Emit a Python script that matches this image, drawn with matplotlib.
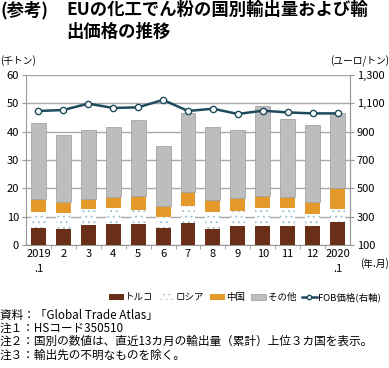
import matplotlib.pyplot as plt
from matplotlib.ticker import FuncFormatter

plt.rcParams['font.family'] = ['Noto Sans CJK JP', 'DejaVu Sans']
plt.rcParams['hatch.linewidth'] = 0.7

# data (千トン, ユーロ/トン)
months = ["2019\n.1", "2", "3", "4", "5", "6", "7", "8", "9", "10", "11", "12", "2020\n.1"]
turkey = [6.1, 5.6, 6.9, 7.3, 7.3, 6.1, 7.8, 5.8, 6.8, 6.8, 6.8, 6.8, 8.2]
russia = [5.7, 5.8, 5.7, 5.6, 5.2, 3.9, 5.8, 5.7, 5.3, 6.1, 6.4, 4.3, 4.6]
china = [4.3, 3.8, 3.5, 4.2, 4.8, 3.8, 5.0, 4.4, 4.5, 4.4, 3.7, 4.0, 7.3]
total = [42.9, 38.7, 40.5, 41.5, 44.0, 35.1, 46.5, 41.5, 40.7, 48.9, 44.4, 42.2, 46.6]
fob = [1046, 1053, 1098, 1067, 1072, 1124, 1046, 1062, 1025, 1048, 1036, 1029, 1029]

others = [t - a - b - c for t, a, b, c in zip(total, turkey, russia, china)]

C_TUR = "#6a2f17"
C_RUS = "#ffffff"
C_CHN = "#e39a2b"
C_OTH = "#bdbdbd"
C_LINE = "#1f4b5c"

fig = plt.figure(figsize=(3.89, 3.68), dpi=100)

# title
fig.text(0.0, 0.998, "(参考)", fontsize=12.5, fontweight="bold", va="top", ha="left")
fig.text(66 / 389, 0.998, "EUの化工でん粉の国別輸出量および輸\n出価格の推移",
         fontsize=12.5, fontweight="bold", va="top", ha="left", linespacing=1.3)

ax = fig.add_axes([26 / 389, 1 - 245 / 368, 324 / 389, 170 / 368])
x = list(range(len(months)))
w = 0.6

b2 = [a + b for a, b in zip(turkey, russia)]
b3 = [a + b for a, b in zip(b2, china)]

ax.bar(x, turkey, w, color=C_TUR, label="トルコ", zorder=3)
ax.bar(x, russia, w, bottom=turkey, color=C_RUS, edgecolor="#9cc4d8", linewidth=0,
       hatch="...", label="ロシア", zorder=3)
ax.bar(x, china, w, bottom=b2, color=C_CHN, label="中国", zorder=3)
ax.bar(x, others, w, bottom=b3, color=C_OTH, edgecolor="#a5a5a5", linewidth=0.6,
       label="その他", zorder=3)

ax.set_xlim(-0.5, len(x) - 0.5)
ax.set_ylim(0, 60)
ax.set_yticks(range(0, 61, 10))
ax.set_xticks(x)
ax.set_xticklabels(months, fontsize=8, linespacing=1.6)
ax.set_xticks([i + 0.5 for i in x[:-1]], minor=True)
ax.tick_params(axis="x", which="major", length=0, pad=3)
ax.tick_params(axis="x", which="minor", length=3, color="#999999")
ax.tick_params(axis="y", length=3, color="#999999", labelsize=8, pad=2)
ax.grid(axis="y", color="#a8a8a8", linewidth=1, zorder=0)
ax.set_axisbelow(True)
ax.spines["top"].set_visible(False)
for s in ["left", "right", "bottom"]:
    ax.spines[s].set_color("#999999")

ax2 = ax.twinx()
ax2.plot(x, fob, color=C_LINE, linewidth=1.8, marker="o", markersize=4.5,
         markerfacecolor="white", markeredgecolor=C_LINE, markeredgewidth=1,
         label="FOB価格(右軸)", zorder=5)
ax2.set_ylim(100, 1300)
ax2.set_yticks(range(100, 1301, 200))
ax2.yaxis.set_major_formatter(FuncFormatter(lambda v, p: f"{int(v):,}"))
ax2.tick_params(axis="y", length=3, color="#999999", labelsize=8, pad=2)
for s in ["top", "left", "bottom"]:
    ax2.spines[s].set_visible(False)
ax2.spines["right"].set_color("#999999")

# unit labels
fig.text(0.0, 1 - 61 / 368, "(千トン)", fontsize=7, va="center", ha="left")
fig.text(1.0, 1 - 61 / 368, "(ユーロ/トン)", fontsize=7, va="center", ha="right")
fig.text(1.0, 1 - 264 / 368, "(年.月)", fontsize=7, va="center", ha="right")

# legend
h1, l1 = ax.get_legend_handles_labels()
h2, l2 = ax2.get_legend_handles_labels()
fig.legend(h1 + h2, l1 + l2, loc="center", bbox_to_anchor=(245 / 389, 1 - 297 / 368),
           ncol=5, frameon=False, fontsize=6.8, handlelength=1.6, handleheight=0.6,
           handletextpad=0.15, columnspacing=0.6, borderpad=0, markerscale=0.7)

# notes
notes = [
    "資料：「Global Trade Atlas」",
    "注１：HSコード350510",
    "注２：国別の数値は、直近13カ月の輸出量（累計）上位３カ国を表示。",
    "注３：輸出先の不明なものを除く。",
]
for i, n in enumerate(notes):
    fig.text(0.0, 1 - (315 + i * 13.3) / 368, n, fontsize=8.4, va="center", ha="left")

fig.savefig("out.png", dpi=100)
